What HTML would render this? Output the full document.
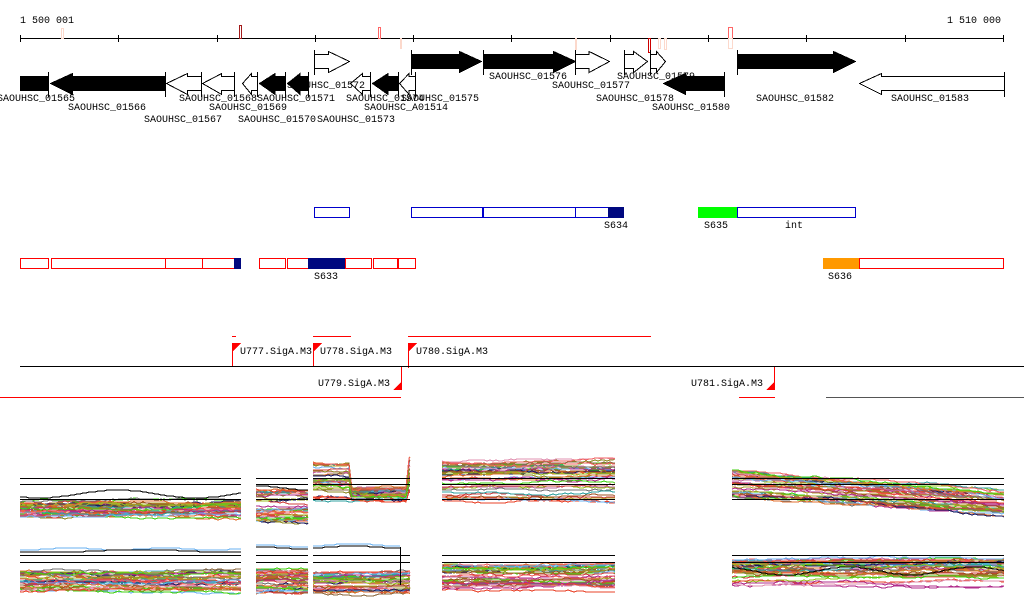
<!DOCTYPE html>
<html><head><meta charset="utf-8"><style>
html,body{margin:0;padding:0;background:#fff;width:1024px;height:611px;overflow:hidden}
svg text{font-family:"Liberation Mono",monospace;font-size:10px;fill:#000}
</style></head><body>
<svg id="s" width="1024" height="611" viewBox="0 0 1024 611" xmlns="http://www.w3.org/2000/svg" shape-rendering="crispEdges">
<text x="20" y="23">1 500 001</text>
<text x="1001" y="23" text-anchor="end">1 510 000</text>
<line x1="20" y1="38.5" x2="1004" y2="38.5" stroke="#000"/>
<g stroke="#000">
<line x1="20.5" y1="35" x2="20.5" y2="42"/><line x1="118.5" y1="35" x2="118.5" y2="42"/><line x1="217.5" y1="35" x2="217.5" y2="42"/><line x1="315.5" y1="35" x2="315.5" y2="42"/><line x1="413.5" y1="35" x2="413.5" y2="42"/><line x1="511.5" y1="35" x2="511.5" y2="42"/><line x1="610.5" y1="35" x2="610.5" y2="42"/><line x1="708.5" y1="35" x2="708.5" y2="42"/><line x1="806.5" y1="35" x2="806.5" y2="42"/><line x1="905.5" y1="35" x2="905.5" y2="42"/><line x1="1003.5" y1="35" x2="1003.5" y2="42"/>
</g>
<g fill="none">
<rect x="61.5" y="28.5" width="2" height="10" stroke="#fcd9cc"/>
<rect x="239.5" y="25.5" width="2" height="13" stroke="#a31b1b"/>
<rect x="378.5" y="27.5" width="2" height="11" stroke="#f66"/>
<rect x="400.5" y="38.5" width="1" height="10" stroke="#fcd9cc"/>
<rect x="575.5" y="38.5" width="1" height="11" stroke="#fcd9cc"/>
<rect x="648.5" y="38.5" width="2" height="14" stroke="#c00"/>
<rect x="658.5" y="38.5" width="2" height="10" stroke="#fcd9cc"/>
<rect x="664.5" y="38.5" width="2" height="11" stroke="#fcd9cc"/>
<rect x="728.5" y="27.5" width="4" height="11" stroke="#f66"/>
<rect x="728.5" y="38.5" width="4" height="10" stroke="#fcd9cc"/>
</g>
<g id="genes"></g>
<g id="labels"></g>

<g fill="none" stroke="#00c">
<rect x="314.5" y="207.5" width="35" height="10"/>
<rect x="411.5" y="207.5" width="71" height="10"/>
<rect x="483.5" y="207.5" width="92" height="10"/>
<rect x="575.5" y="207.5" width="33" height="10"/>
<rect x="737.5" y="207.5" width="118" height="10"/>
</g>
<rect x="608" y="207" width="16" height="11" fill="#00087f"/>
<rect x="698" y="207" width="39" height="11" fill="#0f0"/>
<text x="616" y="228" text-anchor="middle">S634</text>
<text x="716" y="228" text-anchor="middle">S635</text>
<text x="794" y="228" text-anchor="middle">int</text>
<g fill="none" stroke="#f00">
<rect x="20.5" y="258.5" width="28" height="10"/>
<rect x="51.5" y="258.5" width="114" height="10"/>
<rect x="165.5" y="258.5" width="37" height="10"/>
<rect x="202.5" y="258.5" width="32" height="10"/>
<rect x="259.5" y="258.5" width="26" height="10"/>
<rect x="287.5" y="258.5" width="21" height="10"/>
<rect x="345.5" y="258.5" width="26" height="10"/>
<rect x="373.5" y="258.5" width="24" height="10"/>
<rect x="398.5" y="258.5" width="17" height="10"/>
<rect x="859.5" y="258.5" width="144" height="10"/>
</g>
<rect x="234" y="258" width="7" height="11" fill="#00087f"/>
<rect x="308" y="258" width="37" height="11" fill="#00087f"/>
<rect x="823" y="258" width="36" height="11" fill="#f90"/>
<text x="326" y="279" text-anchor="middle">S633</text>
<text x="840" y="279" text-anchor="middle">S636</text>

<g stroke="#f00" fill="none">
<line x1="232" y1="336.5" x2="236" y2="336.5"/>
<line x1="313" y1="336.5" x2="351" y2="336.5"/>
<line x1="408" y1="336.5" x2="651" y2="336.5"/>
<line x1="0" y1="397.5" x2="401" y2="397.5"/>
<line x1="739" y1="397.5" x2="775" y2="397.5"/>
<line x1="232.5" y1="343" x2="232.5" y2="366"/>
<line x1="313.5" y1="343" x2="313.5" y2="366"/>
<line x1="408.5" y1="343" x2="408.5" y2="368"/>
<line x1="401.5" y1="366" x2="401.5" y2="390"/>
<line x1="774.5" y1="366" x2="774.5" y2="390"/>
</g>
<g fill="#f00">
<polygon points="232,343 241,343 232,352"/>
<polygon points="313,343 322,343 313,352"/>
<polygon points="408,343 417,343 408,352"/>
<polygon points="402,381 402,390 393,390"/>
<polygon points="775,381 775,390 766,390"/>
</g>
<line x1="20" y1="366.5" x2="1024" y2="366.5" stroke="#000"/>
<line x1="826" y1="397.5" x2="1024" y2="397.5" stroke="#555"/>
<text x="240" y="354">U777.SigA.M3</text>
<text x="320" y="354">U778.SigA.M3</text>
<text x="416" y="354">U780.SigA.M3</text>
<text x="390" y="386" text-anchor="end">U779.SigA.M3</text>
<text x="763" y="386" text-anchor="end">U781.SigA.M3</text>
<g id="plots"></g>
</svg>
<script>
var NS="http://www.w3.org/2000/svg";
function el(p,t,a){var e=document.createElementNS(NS,t);for(var k in a)e.setAttribute(k,a[k]);p.appendChild(e);return e;}
var G=document.getElementById('genes'),L=document.getElementById('labels');
var genes=[[20,48,-1,1,1],[50,165,-1,1],[166,201,-1,0],[202,234,-1,0],[242,257,-1,0],[259,285,-1,1],[287,308,-1,1],[314,349,1,0],[350,370,-1,0],[372,398,-1,1],[399,415,-1,0],[411,481,1,1],[483,575,1,1],[575,609,1,0],[624,647,1,0],[650,665,1,0],[663,724,-1,1],[737,855,1,1],[859,1004,-1,0]];
genes.forEach(function(g){
 var x1=g[0],x2=g[1],f=g[3]?"#000":"#fff";
 var top=g[2]>0?51:73, s1=top+3,s2=top+17,b=top+21;
 var hl=Math.min(22,(x2-x1)*0.6);
 var pts;
 if(g[4]) pts=[[x1,s1],[x2,s1],[x2,s2],[x1,s2]];
 else if(g[2]>0) pts=[[x1,s1],[x2-hl,s1],[x2-hl,top],[x2,top+10],[x2-hl,b],[x2-hl,s2],[x1,s2]];
 else pts=[[x2,s1],[x1+hl,s1],[x1+hl,top],[x1,top+10],[x1+hl,b],[x1+hl,s2],[x2,s2]];
 el(G,'polygon',{points:pts.map(function(p){return (p[0]+.5)+','+(p[1]+.5)}).join(' '),fill:f,stroke:'#000'});
 var tx=g[2]>0?x1:x2;
 el(G,'line',{x1:tx+.5,y1:top-1,x2:tx+.5,y2:b+3,stroke:'#000'});
});
var labs=[["SAOUHSC_01565",36,101],["SAOUHSC_01566",107,110],["SAOUHSC_01567",183,122],["SAOUHSC_01568",218,101],["SAOUHSC_01569",248,110],["SAOUHSC_01570",277,122],["SAOUHSC_01571",296,101],["SAOUHSC_01572",326,88],["SAOUHSC_01573",356,122],["SAOUHSC_01574",385,101],["SAOUHSC_A01514",406,110],["SAOUHSC_01575",440,101],["SAOUHSC_01576",528,79],["SAOUHSC_01577",591,88],["SAOUHSC_01578",635,101],["SAOUHSC_01579",656,79],["SAOUHSC_01580",691,110],["SAOUHSC_01582",795,101],["SAOUHSC_01583",930,101]];
labs.forEach(function(l){var t=el(L,'text',{x:l[1],y:l[2],'text-anchor':'middle'});t.textContent=l[0];});
var P=document.getElementById('plots');
var seed=7;function r(){seed=(seed*16807)%2147483647;return seed/2147483647;}
var cols=["#e8432a","#8f8a25","#6ab2f0","#b02d8c","#e07030","#40d010","#c06aa0","#8e6a40","#1a1a60","#d04040","#b0a030","#e090b0","#707070","#a05020","#30a0a0","#f06060","#98c020"];
function band(x1,x2,f,n){
 n=n||40;
 for(var i=0;i<n;i++){
  var c=cols[i%cols.length],u=Math.pow(r(),1.3),d="",y=0,off=(r()-.5)*3;
  for(var x=x1;;x+=3){if(x>x2)x=x2;var b=f(x);off+=(r()-.5)*1.5;off=Math.max(-4,Math.min(4,off));y=Math.round(b[0]+u*(b[1]-b[0])+off);d+=(d?"L":"M")+x+","+y;if(x>=x2)break;}
  el(P,'path',{d:d,fill:'none',stroke:c,'stroke-width':1});
 }
}
function hl(x1,x2,ys){ys.forEach(function(y){el(P,'line',{x1:x1,x2:x2,y1:y+.5,y2:y+.5,stroke:'#000','stroke-width':1});});}
function trace(x1,x2,y,c,amp,per){var d="";per=per||15;for(var x=x1;;x+=3){if(x>x2)x=x2;d+=(d?"L":"M")+x+","+Math.round(y+Math.sin(x/per)*amp);if(x>=x2)break;}el(P,'path',{d:d,fill:'none',stroke:c,'stroke-width':1});}
var panels=[[20,241],[256,308],[313,410],[442,615],[732,1004]];
band(20,241,function(){return [502,518]});
band(256,308,function(){return [490,522]});
band(313,410,function(x){return x<352?[462,500]:x<408?[488,500]:[458,492]});
band(442,615,function(){return [460,502]});
band(732,1004,function(x){var t=(x-732)/272;return [470+t*22,497+t*18]});
trace(20,241,494,"#000",4,25);trace(256,308,488,"#000",2);
band(20,241,function(){return [572,592]});
band(256,308,function(){return [570,592]});
band(313,410,function(){return [574,592]});
band(442,615,function(){return [566,588]});
band(732,1004,function(x){return [560,586]});
trace(20,241,549,"#6ab2f0",1);trace(20,241,551,"#000",1.5,30);
trace(256,308,546,"#6ab2f0",1);trace(256,308,548,"#000",1);trace(313,400,545,"#6ab2f0",1.5);trace(313,400,547,"#000",1);
el(P,'line',{x1:400.5,x2:400.5,y1:547,y2:585,stroke:'#000'});
trace(732,1004,571,"#000",4,20);
panels.forEach(function(p){hl(p[0],p[1],[478,484,499]);hl(p[0],p[1],[555,562]);});
</script>
</body></html>
